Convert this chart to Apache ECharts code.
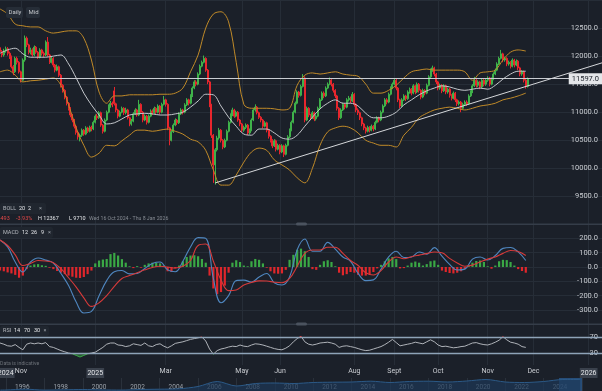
<!DOCTYPE html>
<html><head><meta charset="utf-8">
<script src="https://cdn.jsdelivr.net/npm/echarts@6/dist/echarts.min.js"></script>
<style>html,body{margin:0;padding:0;background:#1b2029;}#c{width:602px;height:391px;}</style>
</head><body><div id="c"></div>
<script>
// ---------- DATA ----------
const SLOT_COUNT = 317;            // daily slots on the time axis (incl. empty future up to 8 Jan 2026)
const timeTickSlots  = [3, 11, 50, 87, 127, 147, 186, 207, 230, 256, 280, 309];
const timeTickLabels = ['2024','Nov','2025','Mar','May','Jun','Aug','Sept','Oct','Nov','Dec','2026'];

const openPrices = [
12150,12080,12020,12090,12130,12050,11990,11810,11720,11960,
11890,11720,11570,11930,12320,12200,12070,12110,12020,12160,
12070,11980,12110,12050,12020,12250,12020,11890,11960,11840,
11750,11810,11660,11480,11390,11270,11160,11070,10950,10860,
10750,10640,10560,10590,10680,10610,10720,10660,10730,10700,
10820,10930,10900,10990,10770,10660,10860,11000,11110,11160,
11380,11150,11040,10930,11000,11070,10990,11040,10900,10790,
10840,10970,11040,10950,11140,11000,10860,10930,10820,10930,
11020,10990,11070,11000,11110,11000,11140,11220,11140,10720,
10500,10650,10770,10860,10810,10970,11040,11000,11130,11220,
11160,11290,11430,11540,11500,11680,11820,11890,11960,11750,
11540,11130,10590,10060,10330,10540,10680,10500,10380,10500,
10660,10820,10950,11040,10930,11000,10860,10790,10680,10730,
10770,10630,10680,10860,11040,11090,10990,10910,10860,10750,
10810,10680,10570,10500,10400,10490,10340,10410,10290,10400,
10250,10410,10560,10680,10820,11000,11160,11360,11300,11460,
11610,10860,11070,10950,10900,10990,10880,10930,11070,11220,
11340,11290,11430,11500,11570,11500,11390,11290,11070,10900,
11040,11140,11090,11220,11250,11200,11320,11140,11040,10990,
10900,10790,10720,10660,10730,10680,10750,10700,10820,10900,
10860,11000,11110,11220,11180,11320,11430,11500,11570,11430,
11220,11110,11220,11290,11240,11360,11410,11340,11470,11360,
11500,11390,11270,11390,11340,11480,11630,11750,11790,11680,
11540,11430,11480,11380,11470,11360,11410,11300,11250,11340,
11220,11150,11180,11070,11140,11180,11150,11290,11360,11470,
11570,11480,11540,11450,11570,11500,11570,11610,11500,11590,
11680,11750,11860,11960,12040,11930,11960,11860,11890,11820,
11930,11840,11910,11790,11680,11720,11570,11460];

const closePrices = [
12080,12020,12090,12130,12050,11990,11810,11720,11960,11890,
11720,11570,11930,12320,12200,12070,12110,12020,12160,12070,
11980,12110,12050,12020,12250,12020,11890,11960,11840,11750,
11810,11660,11480,11390,11270,11160,11070,10950,10860,10750,
10640,10560,10590,10680,10610,10720,10660,10730,10700,10820,
10930,10900,10990,10770,10660,10860,11000,11110,11160,11130,
11150,11040,10930,11000,11070,10990,11040,10900,10790,10840,
10970,11040,10950,11140,11000,10860,10930,10820,10930,11020,
10990,11070,11000,11110,11000,11140,11220,11140,10720,10500,
10650,10770,10860,10810,10970,11040,11000,11130,11220,11160,
11290,11430,11540,11500,11680,11820,11890,11960,11750,11540,
11130,10590,10060,10330,10540,10680,10500,10380,10500,10660,
10820,10950,11040,10930,11000,10860,10790,10680,10730,10770,
10630,10680,10860,11040,11090,10990,10910,10860,10750,10810,
10680,10570,10500,10400,10490,10340,10410,10290,10400,10250,
10410,10560,10680,10820,11000,11160,11360,11300,11460,11610,
10860,11070,10950,10900,10990,10880,10930,11070,11220,11340,
11290,11430,11500,11570,11500,11390,11290,11070,10900,11040,
11140,11090,11220,11250,11200,11320,11140,11040,10990,10900,
10790,10720,10660,10730,10680,10750,10700,10820,10900,10860,
11000,11110,11220,11180,11320,11430,11500,11570,11430,11220,
11110,11220,11290,11240,11360,11410,11340,11470,11360,11500,
11390,11270,11390,11340,11480,11630,11750,11790,11680,11540,
11430,11480,11380,11470,11360,11410,11300,11250,11340,11220,
11150,11180,11070,11140,11180,11150,11290,11360,11470,11570,
11480,11540,11450,11570,11500,11570,11610,11500,11590,11680,
11750,11860,11960,12040,11930,11960,11860,11890,11820,11930,
11840,11910,11790,11680,11720,11570,11460,11597];

const lowPrices = [
12040,11980,11990,12060,12010,11950,11780,11660,11700,11850,
11690,11530,11550,11900,12160,12030,12030,11990,12000,12040,
11950,11960,12010,11980,12000,11990,11860,11870,11800,11710,
11730,11630,11440,11350,11230,11120,11030,10910,10820,10710,
10600,10510,10480,10560,10580,10590,10630,10640,10660,10680,
10800,10860,10880,10740,10620,10640,10840,10980,11080,11090,
11120,11000,10890,10910,10980,10950,10960,10870,10750,10760,
10820,10950,10920,10930,10970,10820,10840,10780,10800,10910,
10950,10970,10970,10980,10960,10980,11120,11100,10680,10410,
10480,10630,10750,10770,10790,10950,10960,10980,11110,11120,
11140,11270,11410,11460,11480,11660,11800,11870,11720,11500,
11090,10540,9740,9710,10300,10510,10460,10340,10360,10480,
10640,10800,10930,10900,10910,10830,10750,10640,10650,10700,
10590,10600,10660,10840,11010,10960,10880,10820,10710,10730,
10640,10530,10460,10360,10380,10300,10320,10250,10270,10200,
10230,10390,10540,10660,10800,10980,11140,11260,11280,11440,
10820,10840,10910,10860,10880,10840,10850,10910,11050,11200,
11250,11270,11410,11480,11460,11350,11250,11030,10860,10880,
11020,11050,11070,11190,11160,11180,11100,11000,10950,10860,
10750,10680,10620,10640,10640,10660,10660,10680,10800,10820,
10840,10980,11090,11140,11160,11300,11410,11480,11390,11180,
11070,11090,11200,11200,11220,11330,11300,11320,11320,11340,
11350,11230,11250,11300,11320,11460,11610,11720,11640,11500,
11390,11400,11340,11360,11320,11330,11260,11210,11230,11180,
11110,11120,11000,11050,11110,11110,11130,11270,11340,11450,
11440,11450,11410,11430,11460,11470,11540,11460,11480,11570,
11660,11730,11840,11940,11890,11900,11820,11830,11780,11800,
11800,11820,11750,11640,11650,11530,11420,11440];

const highPrices = [
12190,12110,12130,12170,12160,12080,12010,11840,11990,11990,
11910,11740,11960,12367,12350,12220,12150,12140,12190,12180,
12090,12140,12130,12080,12280,12340,12040,11990,11980,11860,
11850,11830,11680,11500,11410,11290,11180,11090,10970,10880,
10770,10660,10620,10710,10700,10750,10740,10760,10760,10850,
10960,10970,11020,11010,10790,10890,11030,11140,11200,11190,
11450,11170,11060,11030,11100,11090,11080,11060,10920,10880,
11000,11070,11060,11220,11160,11020,10960,10950,10960,11050,
11050,11100,11090,11140,11130,11170,11290,11240,11160,10740,
10680,10800,10890,10880,11000,11070,11060,11160,11250,11240,
11320,11460,11570,11570,11710,11850,11920,12010,11980,11770,
11560,11150,10610,10360,10580,10720,10700,10520,10530,10690,
10850,10980,11080,11060,11030,11020,10880,10810,10760,10800,
10790,10710,10890,11070,11140,11110,11010,10930,10880,10840,
10830,10700,10590,10520,10520,10510,10440,10430,10430,10420,
10440,10590,10710,10850,11030,11190,11390,11380,11490,11680,
11640,11100,11090,10970,11020,11010,10960,11100,11250,11370,
11370,11460,11530,11620,11590,11520,11410,11310,11090,11070,
11170,11160,11250,11290,11280,11360,11340,11160,11070,11010,
10920,10810,10740,10760,10750,10780,10770,10850,10930,10920,
11030,11140,11250,11250,11350,11460,11530,11610,11590,11450,
11240,11250,11320,11310,11390,11440,11430,11500,11490,11530,
11520,11410,11420,11410,11510,11660,11780,11830,11810,11700,
11560,11510,11500,11500,11490,11440,11430,11320,11370,11360,
11240,11210,11200,11170,11210,11210,11320,11390,11500,11630,
11590,11570,11560,11600,11590,11600,11640,11630,11620,11710,
11780,11890,11990,12110,12060,11990,11980,11920,11910,11960,
11950,11940,11930,11810,11750,11740,11590,11620];

// Bollinger (20, 2) read every 4 slots
const BAND_STEP = 4;
const bollUpper = [12840,12750,12570,12540,12520,12520,12450,12410,12430,12450,
12450,12320,11930,11360,11160,11290,11290,11310,11310,11310,
11310,11320,11320,11340,11430,11720,12020,12500,12750,12790,
12610,11890,11140,11070,11070,11070,11060,11040,11070,11480,
11660,11700,11680,11700,11720,11680,11660,11640,11500,11340,
11340,11390,11480,11610,11720,11750,11770,11750,11750,11750,
11750,11720,11570,11700,11720,11750,11930,12070,12110,12090];
const bollMid = [12050,12110,12140,12040,11980,11980,11980,12000,12020,11860,
11610,11340,11130,10950,10790,10810,10880,10950,10970,10980,
10970,10950,10950,10970,11000,11090,11200,11320,11310,11110,
10910,10750,10610,10590,10700,10700,10630,10540,10520,10590,
10750,10910,11060,11160,11220,11160,11160,11110,10980,10900,
10900,10930,11000,11130,11220,11310,11380,11430,11470,11450,
11410,11390,11410,11430,11410,11480,11590,11680,11730,11730];
const bollLower = [11720,11750,11660,11540,11560,11570,11590,11610,11480,11130,
10720,10410,10200,10270,10410,10400,10490,10590,10680,10680,
10660,10680,10700,10660,10610,10520,10470,10320,9970,9700,
9700,9880,10110,10290,10360,10320,10150,10060,9970,9830,
9740,10000,10410,10650,10720,10750,10720,10630,10500,10450,
10410,10410,10380,10590,10730,10900,10980,11040,11070,11090,
11070,11040,11070,11110,11130,11160,11220,11250,11290,11340];

// MACD (12, 26, 9): lines read every 4 slots, histogram every 2 slots
const MACD_STEP = 4, HIST_STEP = 2;
const macdLine = [188,140,35,-35,35,63,48,28,-45,-130,
-245,-321,-310,-200,-95,-33,-25,-48,-45,-10,
25,35,-20,-33,40,140,205,200,-80,-250,
-200,-95,-92,-105,-70,-45,-110,-126,-70,120,
195,110,110,172,125,70,40,-45,-95,-90,
-15,70,110,66,70,105,90,135,75,18,
-21,-15,55,70,49,80,130,136,105,45];
const signalLine = [188,150,85,10,25,45,42,30,-12,-75,
-140,-215,-275,-250,-200,-135,-80,-60,-40,-20,
-3,5,0,-7,5,45,150,160,40,-90,
-165,-160,-125,-108,-97,-98,-106,-110,-80,5,
95,119,119,138,138,95,45,10,-40,-56,
-25,35,70,57,72,83,93,105,100,60,
28,5,13,35,55,70,95,115,108,80];
const macdHist = [-25,-30,-38,-45,-55,-75,-60,-15,10,18,
20,12,8,-5,-15,-28,-40,-50,-60,-68,
-75,-77,-70,-50,-25,25,45,52,56,90,
98,80,55,30,5,-8,6,-5,15,25,
30,30,25,10,-30,-35,-10,10,40,70,
80,82,75,56,30,-60,-150,-190,-175,-130,
-40,30,47,35,10,5,40,56,50,25,
-5,-30,-45,-47,-45,-20,50,85,120,128,
110,70,-15,-20,15,40,47,35,5,-40,
-58,-50,-35,-40,-55,-60,-60,-50,-35,-10,
15,40,60,70,55,-10,-8,10,30,38,
30,10,20,40,45,15,-25,-35,-42,-45,
-40,-30,-15,10,30,42,45,35,5,-12,
10,40,50,48,35,10,-15,-28,-40];

// RSI (14) read every 2 slots
const RSI_STEP = 2;
const rsiValues = [55,52,48,47,51,44,38,52,55,53,
55,53,56,46,44,40,36,33,30,28,
24,20,24,28,30,32,38,44,52,55,
55,50,49,46,48,53,51,49,55,48,
46,51,53,47,43,48,54,56,58,61,
64,66,68,70,60,40,27,36,40,42,
45,47,46,50,47,46,50,53,52,50,
47,44,41,39,38,42,48,58,66,72,
58,52,50,52,55,56,57,55,52,44,
47,48,46,44,41,38,36,37,40,43,
46,51,57,64,56,48,50,52,54,57,
55,53,58,63,58,50,46,47,45,43,
44,46,47,51,55,56,53,51,50,53,
57,62,71,63,57,55,52,46,44];
const rsiLevels = [70, 30];

// Trend line (slot, price) and navigator history
const trendSlots  = [113, 316];
const trendPrices = [9740, 11880];
const navYears  = [1995.7,1996,1997,1998,1999,2000,2001,2002,2003,2004,2005,2006,2007,2008,2009,2010,2011,2012,2013,2014,2015,2016,2017,2018,2019,2020,2021,2022,2023,2024,2025,2025.9];
const navValues = [900,1000,1800,900,1200,1500,1100,900,1500,1800,2200,4500,9500,5000,7500,8000,7500,8500,8800,9000,9800,8500,9500,9800,9000,10000,11500,9000,8500,9500,11500,11600];
const navWindow = [2024.8, 2026.0];

// ---------- STYLE ----------
const BG = '#1b2029', GRID = '#262d37', TXT = '#c9ccd1', DIM = '#868b93';
const UP = '#3fb24a', DOWN = '#e8262d', BAND = '#c08a28', MID = '#c3c6cb';
const FONT = 'Roboto, "Liberation Sans", Arial, sans-serif';

const slotNames = Array.from({length: SLOT_COUNT}, (_, i) => 'd' + i);
const gridSlots = timeTickSlots.slice(1);
const pairs = (arr, step) => arr.map((v, i) => [i * step, v]);
const candleData = closePrices.map((c, i) => [openPrices[i], c, lowPrices[i], highPrices[i]]);
const bandWidth = bollUpper.map((u, i) => u - bollLower[i]);
const lastClose = closePrices[closePrices.length - 1];

function catAxis(gridIndex, withLabels) {
  return {
    type: 'category', gridIndex, data: slotNames, boundaryGap: false,
    axisLine: {show: false}, axisTick: {show: false},
    axisLabel: withLabels ? {
      show: true, interval: (i) => timeTickSlots.includes(i), margin: 3,
      showMinLabel: true, showMaxLabel: true, hideOverlap: false,
      formatter: (v, i) => {
        const k = timeTickSlots.indexOf(i);
        if (k < 0) return '';
        const t = timeTickLabels[k];
        return /^\d{4}$/.test(t) ? '{yr|' + t + '}' : '{m|' + t + '}';
      },
      rich: {
        yr: {backgroundColor: '#3a414c', color: '#e4e6e9', padding: [2, 1, 1, 1], fontSize: 7, fontFamily: FONT},
        m: {color: TXT, fontSize: 7, fontFamily: FONT}
      }
    } : {show: false},
    splitLine: {show: true, interval: (i) => gridSlots.includes(i), lineStyle: {color: GRID, width: 1}}
  };
}
function valAxis(gridIndex) {
  return {type: 'value', gridIndex, min: 0, max: SLOT_COUNT - 1, show: false};
}
function priceLabel(hidden) {
  return {inside: true, color: TXT, fontSize: 7.5, fontFamily: FONT, margin: 4,
    formatter: (v) => hidden.includes(v) ? '' : v.toFixed(1)};
}

const chart = echarts.init(document.getElementById('c'), null, {renderer: 'canvas'});
const txt = (x, y, s, fill, size, extra) => Object.assign({type: 'text', x, y, style: {text: s, fill, fontSize: size || 5.5, fontFamily: FONT, verticalAlign: 'middle'}, z: 100}, extra || {});
const box = (x, y, w, h, fill) => ({type: 'rect', shape: {x, y, width: w, height: h, r: 2}, style: {fill}, z: 99});

chart.setOption({
  backgroundColor: BG,
  animation: false,
  textStyle: {fontFamily: FONT},
  grid: [
    {left: 0, right: 0, top: 0, height: 224.4, outerBoundsMode: 'none'},
    {left: 0, right: 0, top: 224, height: 100.3, outerBoundsMode: 'none'},
    {left: 0, right: 0, top: 325, height: 40, outerBoundsMode: 'none'},
    {left: -32.4, right: 0, top: 378, height: 13, outerBoundsMode: 'none'}
  ],
  xAxis: [
    catAxis(0, false), valAxis(0),
    catAxis(1, false), valAxis(1),
    catAxis(2, true), valAxis(2),
    {type: 'value', gridIndex: 3, min: 1994, max: 2027.04, interval: 2,
      axisLine: {show: false}, axisTick: {show: false},
      splitLine: {show: true, lineStyle: {color: '#2a313b'}},
      axisLabel: {inside: false, margin: -7.5, color: '#9aa0a8', fontSize: 6.5, align: 'left', padding: [0, 0, 0, 9],
        formatter: (v) => (v >= 1996 && v <= 2024 && Math.round(v) % 2 === 0) ? String(Math.round(v)) : ''}}
  ],
  yAxis: [
    {type: 'value', gridIndex: 0, position: 'right', min: 9000, max: 13000, interval: 500,
      axisLine: {show: false}, axisTick: {show: false}, axisLabel: priceLabel([9000, 13000]),
      splitLine: {lineStyle: {color: GRID}}},
    {type: 'value', gridIndex: 1, position: 'right', min: -400, max: 300, interval: 100,
      axisLine: {show: false}, axisTick: {show: false}, axisLabel: priceLabel([300, -400]),
      splitLine: {lineStyle: {color: GRID}}},
    {type: 'value', gridIndex: 2, position: 'right', min: 0, max: 100, interval: 10,
      axisLine: {show: false}, axisTick: {show: false}, splitLine: {show: false},
      axisLabel: {inside: true, color: TXT, fontSize: 7.5, margin: 4, formatter: (v) => rsiLevels.includes(v) ? String(v) : ''}},
    {type: 'value', gridIndex: 3, min: 0, max: 13000, show: false}
  ],
  visualMap: [{
    show: false, seriesIndex: 9, dimension: 1,
    pieces: [{lt: 30, color: '#3aa845'}, {gte: 30, lte: 70, color: '#aeb2b8'}, {gt: 70, color: '#e03a3a'}]
  }],
  series: [
    {type: 'line', xAxisIndex: 1, yAxisIndex: 0, data: pairs(bollLower, BAND_STEP), stack: 'boll', smooth: 0.35,
      symbol: 'none', lineStyle: {opacity: 0}, z: 1, silent: true},
    {type: 'line', xAxisIndex: 1, yAxisIndex: 0, data: pairs(bandWidth, BAND_STEP), stack: 'boll', smooth: 0.35,
      symbol: 'none', lineStyle: {opacity: 0}, areaStyle: {color: 'rgba(200,200,190,0.09)'}, z: 1, silent: true},
    {type: 'candlestick', xAxisIndex: 0, yAxisIndex: 0, data: candleData, barWidth: 1.5, z: 3,
      itemStyle: {color: UP, color0: DOWN, borderColor: UP, borderColor0: DOWN, borderWidth: 1}},
    {type: 'line', xAxisIndex: 1, yAxisIndex: 0, data: pairs(bollUpper, BAND_STEP), smooth: 0.35, symbol: 'none',
      lineStyle: {color: BAND, width: 1}, z: 4,
      markLine: {symbol: 'none', silent: true, animation: false, data: [
        {yAxis: lastClose, lineStyle: {color: '#c9ccd1', width: 1, type: 'solid'},
          label: {show: true, position: 'insideEnd', distance: 0, formatter: (p) => Number(p.value).toFixed(1),
            backgroundColor: '#e4e6e9', color: '#1b2029', padding: [2, 3, 1, 3], fontSize: 7.5, fontFamily: FONT}},
        [{coord: [trendSlots[0], trendPrices[0]], lineStyle: {color: '#d5d7da', width: 1, type: 'solid'}, label: {show: false}},
         {coord: [trendSlots[1], trendPrices[1]]}]
      ]}},
    {type: 'line', xAxisIndex: 1, yAxisIndex: 0, data: pairs(bollMid, BAND_STEP), smooth: 0.35, symbol: 'none',
      lineStyle: {color: MID, width: 1}, z: 4},
    {type: 'line', xAxisIndex: 1, yAxisIndex: 0, data: pairs(bollLower, BAND_STEP), smooth: 0.35, symbol: 'none',
      lineStyle: {color: BAND, width: 1}, z: 4},
    {type: 'bar', xAxisIndex: 3, yAxisIndex: 1, data: pairs(macdHist, HIST_STEP), barWidth: 2.2, z: 2,
      itemStyle: {color: (p) => p.value[1] >= 0 ? '#3aa845' : '#e0262b'}},
    {type: 'line', xAxisIndex: 3, yAxisIndex: 1, data: pairs(macdLine, MACD_STEP), smooth: 0.4, symbol: 'none',
      lineStyle: {color: '#4f86bf', width: 1.1}, z: 4},
    {type: 'line', xAxisIndex: 3, yAxisIndex: 1, data: pairs(signalLine, MACD_STEP), smooth: 0.4, symbol: 'none',
      lineStyle: {color: '#d63a3a', width: 1.1}, z: 4},
    {type: 'line', xAxisIndex: 5, yAxisIndex: 2, data: pairs(rsiValues, RSI_STEP), symbol: 'none',
      lineStyle: {width: 1}, z: 4,
      markLine: {symbol: 'none', silent: true, label: {show: false},
        lineStyle: {color: '#8ea3b8', width: 1.3, type: 'solid'},
        data: rsiLevels.map((v) => ({yAxis: v}))}},
    {type: 'line', xAxisIndex: 5, yAxisIndex: 2, data: pairs(rsiValues.map((v) => Math.min(v, 30)), RSI_STEP),
      symbol: 'none', lineStyle: {opacity: 0}, areaStyle: {color: 'rgba(58,168,69,0.6)', origin: 30}, z: 3, silent: true},
    {type: 'line', xAxisIndex: 6, yAxisIndex: 3, data: navYears.map((y, i) => [y, navValues[i]]), smooth: 0.3,
      symbol: 'none', lineStyle: {color: '#2c5a88', width: 1}, areaStyle: {color: '#1c3757'}, z: 2,
      markArea: {silent: true, itemStyle: {color: 'rgba(50,115,185,0.55)'},
        data: [[{xAxis: navWindow[0]}, {xAxis: navWindow[1]}]]}}
  ],
  graphic: [
    {type: 'rect', shape: {x: 0, y: 223.5, width: 602, height: 1.5}, style: {fill: '#353d49'}, z: 50},
    {type: 'rect', shape: {x: 0, y: 323.5, width: 602, height: 1.5}, style: {fill: '#353d49'}, z: 50},
    {type: 'rect', shape: {x: 296, y: 222.5, width: 11, height: 3, r: 1.5}, style: {fill: '#4b535f'}, z: 51},
    {type: 'rect', shape: {x: 296, y: 322.5, width: 11, height: 3, r: 1.5}, style: {fill: '#4b535f'}, z: 51},
    box(6, 7, 17, 11, '#262d37'), txt(8.5, 12.5, 'Daily', '#c5c8cc', 6),
    box(26, 7, 14, 11, '#262d37'), txt(28.5, 12.5, 'Mid', '#c5c8cc', 6),
    box(0, 203, 46, 11, '#20262f'),
    txt(3, 208.5, 'BOLL', '#b3b7bd'), txt(19, 208.5, '20', '#e3e5e8'), txt(28, 208.5, '2', '#e3e5e8'), txt(39, 208.5, '×', '#9aa0a8'),
    txt(-1, 219, '-493', '#e04848'), txt(16, 219, '-3.93%', '#e04848'), txt(38, 219, 'H 12367', '#e3e5e8'),
    txt(69, 219, 'L 9710', '#e3e5e8'), txt(89, 219, 'Wed 16 Oct 2024 - Thu 8 Jan 2026', DIM, 5.2),
    box(0, 227, 53, 11, '#20262f'),
    txt(3, 232.5, 'MACD', '#b3b7bd'), txt(22, 232.5, '12', '#e3e5e8'), txt(31, 232.5, '26', '#e3e5e8'), txt(41, 232.5, '9', '#e3e5e8'), txt(48, 232.5, '×', '#9aa0a8'),
    box(0, 326, 49, 10, '#20262f'),
    txt(3, 331, 'RSI', '#b3b7bd'), txt(14, 331, '14', '#e3e5e8'), txt(24, 331, '70', '#e3e5e8'), txt(34, 331, '30', '#e3e5e8'), txt(43.5, 331, '×', '#9aa0a8'),
    txt(0, 364, 'Data is indicative', '#6c7178', 5.2)
  ]
});
</script>
</body></html>
